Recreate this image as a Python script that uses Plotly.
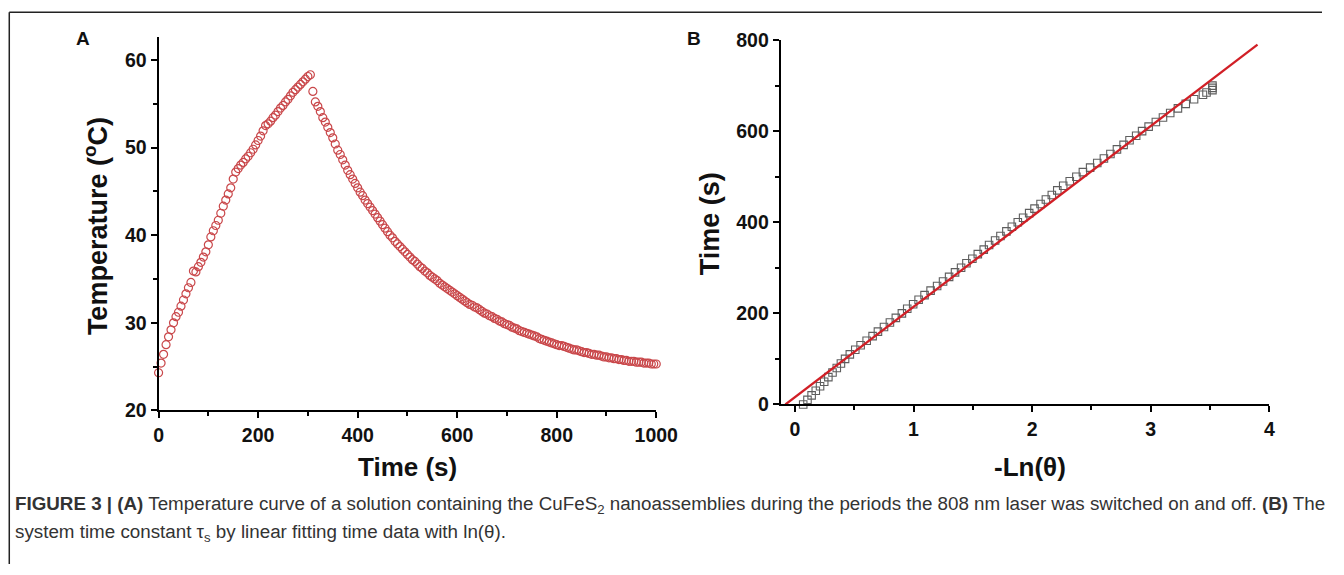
import plotly.graph_objects as go

# ---------- Panel A data: temperature vs time ----------
time_a = list(range(0, 1001, 5))
temp_a = [
    24.3, 25.4, 26.4, 27.5, 28.4, 29.2, 30.0, 30.7, 31.2, 31.9,   # 0-45
    32.6, 33.3, 34.0, 34.6, 35.9, 35.8, 36.4, 36.9, 37.5, 38.1,   # 50-95
    38.9, 39.8, 40.5, 41.1, 41.7, 42.5, 43.3, 44.0, 44.7, 45.4,   # 100-145
    46.4, 47.2, 47.6, 48.0, 48.3, 48.7, 49.0, 49.4, 49.8, 50.3,   # 150-195
    50.8, 51.3, 51.9, 52.5, 52.7, 53.0, 53.4, 53.7, 54.1, 54.5,   # 200-245
    54.8, 55.2, 55.5, 55.9, 56.3, 56.6, 56.9, 57.2, 57.5, 57.8,   # 250-295
    58.1, 58.3, 56.4, 55.2, 54.7, 54.1, 53.4, 52.9, 52.3, 51.7,   # 300-345
    51.1, 50.4, 49.7, 49.2, 48.6, 48.0, 47.4, 46.9, 46.4, 45.9,   # 350-395
    45.4, 44.9, 44.5, 44.0, 43.6, 43.2, 42.8, 42.4, 42.0, 41.6,   # 400-445
    41.2, 40.8, 40.4, 40.0, 39.7, 39.3, 39.0, 38.7, 38.4, 38.1,   # 450-495
    37.8, 37.5, 37.2, 37.0, 36.7, 36.4, 36.2, 35.9, 35.7, 35.4,   # 500-545
    35.2, 35.0, 34.8, 34.5, 34.3, 34.1, 33.9, 33.7, 33.5, 33.3,   # 550-595
    33.1, 32.9, 32.7, 32.5, 32.3, 32.1, 32.0, 31.8, 31.7, 31.5,   # 600-645
    31.3, 31.1, 31.0, 30.8, 30.7, 30.5, 30.4, 30.2, 30.1, 29.9,   # 650-695
    29.8, 29.7, 29.5, 29.4, 29.3, 29.1, 29.0, 28.9, 28.8, 28.7,   # 700-745
    28.6, 28.5, 28.4, 28.2, 28.1, 28.0, 27.9, 27.8, 27.7, 27.6,   # 750-795
    27.5, 27.4, 27.4, 27.3, 27.2, 27.1, 27.0, 26.9, 26.9, 26.8,   # 800-845
    26.7, 26.6, 26.6, 26.5, 26.4, 26.4, 26.3, 26.3, 26.2, 26.1,   # 850-895
    26.1, 26.0, 26.0, 25.9, 25.9, 25.8, 25.8, 25.7, 25.7, 25.6,   # 900-945
    25.6, 25.6, 25.5, 25.5, 25.5, 25.4, 25.4, 25.4, 25.3, 25.3,   # 950-995
    25.3,                                                         # 1000
]

# ---------- Panel B data: time vs -ln(theta) ----------
time_b = [0, 10, 20, 30, 40, 50, 60, 70, 80, 90,
          100, 110, 120, 130, 140, 150, 160, 170, 180, 190,
          200, 210, 220, 230, 240, 250, 260, 270, 280, 290,
          300, 310, 320, 330, 340, 350, 360, 370, 380, 390,
          400, 410, 420, 430, 440, 450, 460, 470, 480, 490,
          500, 510, 520, 530, 540, 550, 560, 570, 580, 590,
          600, 610, 620, 630, 640, 650, 660, 670, 680, 685,
          690, 695, 700]
lntheta_b = [0.070, 0.106, 0.141, 0.176, 0.212, 0.247, 0.282, 0.317, 0.353, 0.388,
             0.423, 0.463, 0.509, 0.554, 0.605, 0.655, 0.700, 0.751, 0.801, 0.851,
             0.902, 0.947, 0.997, 1.043, 1.093, 1.144, 1.199, 1.249, 1.300, 1.350,
             1.401, 1.446, 1.496, 1.542, 1.592, 1.637, 1.688, 1.733, 1.783, 1.829,
             1.879, 1.924, 1.975, 2.020, 2.071, 2.116, 2.166, 2.212, 2.262, 2.317,
             2.373, 2.428, 2.489, 2.549, 2.605, 2.660, 2.715, 2.771, 2.821, 2.877,
             2.927, 2.982, 3.043, 3.103, 3.164, 3.229, 3.295, 3.365, 3.440, 3.470,
             3.520, 3.520, 3.520]

# linear fit line (two end points)
fit_x = [-0.08, 3.90]
fit_y = [0.0, 790.0]

caption_1 = ("<b>FIGURE 3 | (A)</b> Temperature curve of a solution containing the CuFeS<sub>2</sub> "
             "nanoassemblies during the periods the 808 nm laser was switched on and off. <b>(B)</b> The")
caption_2 = "system time constant τ<sub>s</sub> by linear fitting time data with ln(θ)."

W, H = 1344, 575
FONT = "Liberation Sans, Arial, sans-serif"

# the captured picture comes out slightly shrunk/offset; compensate
SX, OX = 0.9845, 3.7
SY, OY = 0.966, 8.8


def px_x(p):
    return ((p - OX) / SX) / W


def px_y(p):
    return 1 - ((p - OY) / SY) / H


fig = go.Figure()

fig.add_trace(go.Scatter(
    x=time_a, y=temp_a, mode="markers", xaxis="x", yaxis="y",
    marker=dict(symbol="circle-open", size=8, color="#c9474a", line=dict(width=1.2)),
    cliponaxis=False, showlegend=False))

fig.add_trace(go.Scatter(
    x=lntheta_b, y=time_b, mode="markers", xaxis="x2", yaxis="y2",
    marker=dict(symbol="square-open", size=7.5, color="#5e5e5e", line=dict(width=1.1)),
    cliponaxis=False, showlegend=False))

fig.add_trace(go.Scatter(
    x=fit_x, y=fit_y, mode="lines", xaxis="x2", yaxis="y2",
    line=dict(color="#d11f26", width=2.3), cliponaxis=False, showlegend=False))

tickfont = dict(family=FONT, size=19.5, color="#111", weight="bold")
axis_common = dict(showline=True, linecolor="black", linewidth=2, ticks="outside",
                   ticklen=6, tickwidth=2, tickcolor="black", showgrid=False,
                   zeroline=False, tickfont=tickfont, mirror=False)
minor_common = dict(ticks="outside", ticklen=4, tickwidth=2, tickcolor="black")

fig.update_layout(
    width=W, height=H,
    margin=dict(l=0, r=0, t=0, b=0),
    paper_bgcolor="white", plot_bgcolor="white",
    xaxis=dict(domain=[px_x(158), px_x(658)], range=[0, 1000], dtick=200,
               minor=dict(dtick=100, **minor_common), anchor="y", **axis_common),
    yaxis=dict(domain=[px_y(410), px_y(35)], range=[20, 62.6], dtick=10, tick0=20,
               minor=dict(dtick=5, **minor_common), anchor="x", **axis_common),
    xaxis2=dict(domain=[px_x(783), px_x(1274)], range=[-0.12, 4], dtick=1, tick0=0,
                minor=dict(dtick=0.5, tick0=0, **minor_common), anchor="y2", **axis_common),
    yaxis2=dict(domain=[px_y(404), px_y(38)], range=[0, 800], dtick=200,
                minor=dict(dtick=100, **minor_common), anchor="x2", **axis_common),
)

xtitle_font = dict(family=FONT, size=26, color="#111", weight="bold")
ytitle_font = dict(family=FONT, size=27, color="#111", weight="bold")
label_font = dict(family=FONT, size=19, color="#111", weight="bold")
cap_font = dict(family=FONT, size=18.8, color="#333")

annotations = [
    dict(text="Time (s)", x=px_x(408), y=px_y(467), font=xtitle_font),
    dict(text="Temperature (<sup>o</sup>C)", x=px_x(95), y=px_y(225), textangle=-90, font=ytitle_font),
    dict(text="-Ln(θ)", x=px_x(1033), y=px_y(467), font=xtitle_font),
    dict(text="Time (s)", x=px_x(712), y=px_y(222), textangle=-90, font=ytitle_font),
    dict(text="A", x=px_x(82), y=px_y(36), font=label_font),
    dict(text="B", x=px_x(696), y=px_y(36), font=label_font),
    dict(text=caption_1, x=px_x(12), y=px_y(505), xanchor="left", font=cap_font),
    dict(text=caption_2, x=px_x(12), y=px_y(533), xanchor="left", font=cap_font),
]
for a in annotations:
    a.setdefault("xanchor", "center")
    a.update(xref="paper", yref="paper", yanchor="middle", showarrow=False)
fig.update_layout(annotations=annotations)

# thin frame (top and left edges)
fig.update_layout(shapes=[
    dict(type="line", xref="paper", yref="paper", x0=px_x(8), x1=1, y0=px_y(10), y1=px_y(10),
         line=dict(color="#222", width=1.5)),
    dict(type="line", xref="paper", yref="paper", x0=px_x(8), x1=px_x(8), y0=0, y1=px_y(10),
         line=dict(color="#222", width=1.5)),
])

fig.write_html("out.html")
